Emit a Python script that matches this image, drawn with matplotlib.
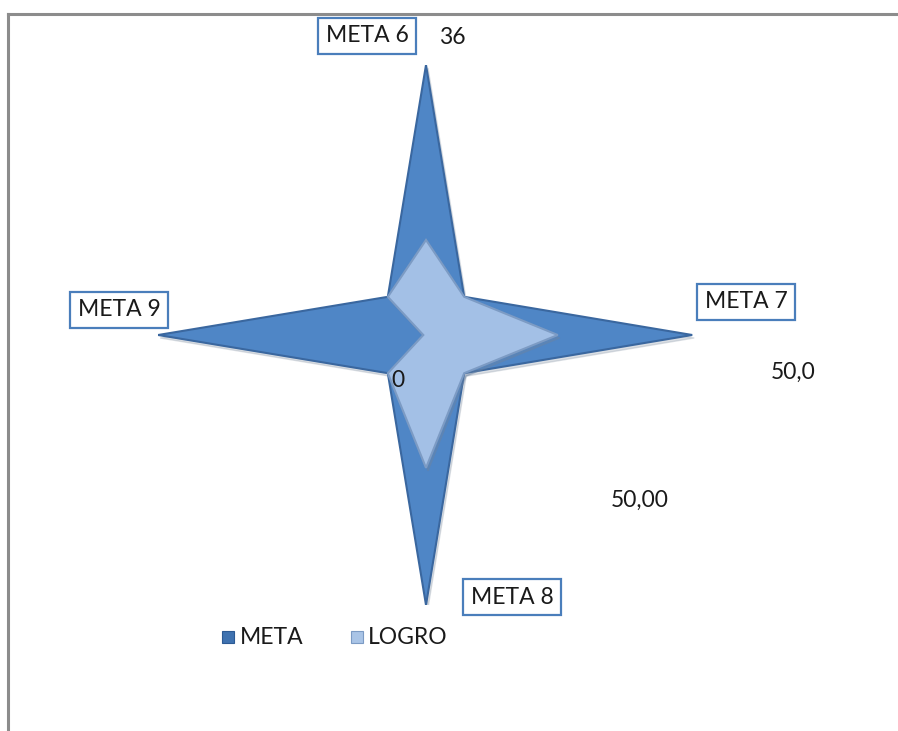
import numpy as np
import matplotlib
matplotlib.use("Agg")
import matplotlib.pyplot as plt
from matplotlib.patches import Rectangle
from matplotlib.lines import Line2D

plt.rcParams['font.family'] = ['Lato', 'DejaVu Sans']

categories = ["META 6", "", "META 7", "", "META 8", "", "META 9", ""]
meta = [50, 10, 49.3, 10, 50, 10, 49.6, 10]
logro = [17.6, 10, 24.4, 10, 24.6, 10, 0.5, 10]
series_names = ["META", "LOGRO"]
value_labels = ["36", "50,0", "50,00", "0"]

W, H = 898, 731
fig = plt.figure(figsize=(W / 100, H / 100), dpi=100)
fig.patch.set_facecolor("white")

cx, cy, R = 426, 335, 270
ax = fig.add_axes([(cx - R) / W, (H - cy - R) / H, 2 * R / W, 2 * R / H],
                  projection="polar")
ax.set_theta_zero_location("N")
ax.set_theta_direction(-1)
ax.set_ylim(0, 50)
ax.axis("off")

n = len(categories)
theta = np.linspace(0, 2 * np.pi, n, endpoint=False)
tc = np.concatenate([theta, theta[:1]])
mc = np.concatenate([meta, meta[:1]])
lc = np.concatenate([logro, logro[:1]])

shift = matplotlib.transforms.ScaledTranslation(0.02, -0.03, fig.dpi_scale_trans)
ax.fill(tc, mc, color="#9aa6b4", alpha=0.35, zorder=1, transform=ax.transData + shift)
ax.fill(tc, mc, facecolor="#4f86c6", edgecolor="#3a679f", linewidth=1.5, zorder=2)
ax.fill(tc, lc, color="#6b84a3", alpha=0.4, zorder=3, transform=ax.transData + shift)
ax.fill(tc, lc, facecolor="#a3c0e6", edgecolor="#7c9bc4", linewidth=1.5, zorder=4)

fs = 16.5

def boxed(x, y, text):
    fig.text(x / W, 1 - y / H, text, fontsize=fs, color="#1a1a1a",
             ha="center", va="center",
             bbox=dict(boxstyle="square,pad=0.33", facecolor="white",
                       edgecolor="#4a7ebb", linewidth=1.6))

boxed(367, 36, categories[0])
boxed(746, 302, categories[2])
boxed(512, 597, categories[4])
boxed(119, 310, categories[6])

for (x, y), t in zip([(452, 37), (793, 372), (640, 500), (398, 380)], value_labels):
    fig.text(x / W, 1 - y / H, t, fontsize=fs, color="#1a1a1a", ha="center", va="center")

for (sx, tx), name, col, ec in zip([(228, 240), (357, 368)], series_names,
                                  ["#3f72b0", "#a9c4e6"], ["#2c5a94", "#7c9bc4"]):
    fig.patches.append(Rectangle(((sx - 6) / W, 1 - (637 + 6) / H), 12 / W, 12 / H,
                                 transform=fig.transFigure, facecolor=col, edgecolor=ec,
                                 linewidth=0.8))
    fig.text(tx / W, 1 - 637 / H, name, fontsize=fs, color="#1a1a1a", ha="left", va="center")

fig.lines.append(Line2D([8 / W, 1], [1 - 14 / H, 1 - 14 / H], transform=fig.transFigure,
                        color="#8c8c8c", linewidth=2.2))
fig.lines.append(Line2D([8 / W, 8 / W], [0, 1 - 14 / H], transform=fig.transFigure,
                        color="#8c8c8c", linewidth=2.2))

fig.savefig("out.png", dpi=100, facecolor="white")
